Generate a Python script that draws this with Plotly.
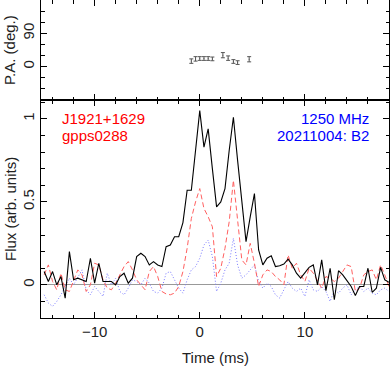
import numpy as np
import plotly.graph_objs as go
from plotly.subplots import make_subplots

# time bins (ms)
tempo = np.round(np.arange(-14.8, 18.01, 0.4), 1)

fluxo_total = [0.08, 0.02, 0.08, 0.00, 0.05, -0.08, 0.20, 0.03, 0.04, 0.03,
               0.02, 0.16, 0.01, 0.13, 0.02, 0.02, 0.02, 0.00, 0.05, 0.07,
               0.01, 0.04, 0.17, 0.19, 0.17, 0.12, 0.14, 0.12, 0.11, 0.23,
               0.24, 0.29, 0.29, 0.375, 0.57, 0.57, 0.81, 1.05, 0.83, 0.94,
               0.70, 0.47, 0.50, 0.58, 0.81, 1.01, 0.75, 0.50, 0.26, 0.41,
               0.55, 0.21, 0.12, 0.16, 0.175, 0.11, 0.115, 0.125, 0.155, 0.12,
               0.07, 0.04, 0.07, 0.105, 0.12, 0.00, 0.15, -0.035, 0.10, -0.09,
               0.085, 0.06, 0.025, -0.01, -0.065, -0.01, -0.01, 0.10, -0.045, -0.02,
               0.105, 0.03, 0.015]

fluxo_linear = [0.06, 0.12, 0.02, -0.03, 0.07, -0.03, -0.04, 0.03, 0.09, 0.06,
                -0.04, 0.00, 0.13, 0.12, 0.03, -0.02, -0.03, 0.01, 0.06, 0.11,
                0.14, 0.09, 0.03, 0.00, -0.03, 0.08, 0.11, 0.05, -0.04, -0.055,
                -0.06, -0.05, -0.01, 0.08, 0.22, 0.40, 0.50, 0.58, 0.46, 0.41,
                0.35, 0.05, 0.10, 0.22, 0.38, 0.63, 0.40, 0.15, 0.12, 0.25,
                0.13, -0.01, 0.06, 0.09, 0.08, 0.05, 0.03, 0.00, 0.18, 0.10,
                0.13, 0.06, 0.02, 0.10, 0.07, 0.02, -0.02, 0.05, 0.04, 0.02,
                0.04, 0.08, 0.12, 0.11, -0.04, -0.02, 0.06, 0.08, 0.09, 0.03,
                0.12, 0.06, -0.01]

fluxo_circular = [-0.06, -0.11, -0.13, -0.10, -0.06, -0.01, 0.04, 0.00, 0.05, 0.09,
                  -0.03, -0.06, -0.01, -0.04, -0.07, 0.07, 0.00, 0.04, -0.04, -0.06,
                  -0.02, 0.03, 0.02, 0.00, 0.04, 0.01, -0.04, -0.05, -0.02, 0.07,
                  0.08, 0.03, -0.02, -0.05, 0.03, 0.09, 0.11, 0.16, 0.24, 0.27,
                  0.17, -0.04, 0.01, 0.09, 0.13, 0.28, 0.12, 0.04, 0.06, 0.09,
                  0.12, 0.02, -0.02, 0.01, -0.01, -0.06, -0.08, -0.03, 0.02, -0.02,
                  -0.04, -0.02, -0.07, 0.03, -0.03, -0.04, -0.01, -0.04, -0.10, -0.03,
                  -0.05, -0.02, 0.00, -0.06, -0.03, -0.01, -0.04, -0.02, -0.05, -0.06,
                  -0.03, -0.02, -0.04]

# position angle points
pa_tempo = [-0.8, -0.4, 0.0, 0.4, 0.8, 1.2, 2.2, 2.7, 3.2, 3.6, 4.7]
pa_valor = [15, 21, 22, 22, 22, 21, 31, 23, 14, 11, 20]
pa_erro = [6, 6, 5, 5, 5, 5, 7, 6, 5, 5, 7]

fonte = "Liberation Sans, Arial, sans-serif"

fig = make_subplots(rows=2, cols=1, shared_xaxes=True, vertical_spacing=0,
                    row_heights=[100, 218])

fig.add_trace(go.Scatter(x=pa_tempo, y=pa_valor, mode='markers',
                         marker={'size': 1, 'color': '#555555'},
                         error_y={'type': 'data', 'array': pa_erro, 'width': 2,
                                  'thickness': 1, 'color': '#555555'}),
              row=1, col=1)

fig.add_trace(go.Scatter(x=tempo, y=fluxo_circular, mode='lines',
                         line={'color': '#7a7aff', 'width': 1, 'dash': '1px,2px'}),
              row=2, col=1)
fig.add_trace(go.Scatter(x=tempo, y=fluxo_linear, mode='lines',
                         line={'color': '#ff6060', 'width': 1, 'dash': '5px,3px'}),
              row=2, col=1)
fig.add_trace(go.Scatter(x=tempo, y=fluxo_total, mode='lines',
                         line={'color': 'black', 'width': 1.1}),
              row=2, col=1)

eixo = dict(showline=True, linecolor='black', linewidth=1, mirror='allticks',
            ticks='inside', ticklen=6, tickcolor='black', showgrid=False,
            zeroline=False, automargin=False,
            tickfont={'size': 15, 'color': '#222', 'family': fonte})

fig.update_xaxes(eixo, range=[-15.1, 18.0], tickvals=[-10, 0, 10],
                 ticktext=['\u221210', '0', '10'],
                 minor={'dtick': 2, 'ticklen': 3.5, 'ticks': 'inside', 'tickcolor': 'black'})
fig.update_xaxes(showticklabels=False, row=1, col=1)

fig.update_yaxes(eixo, range=[-90, 180], tickvals=[0, 90], tickangle=-90,
                 minor={'dtick': 30, 'ticklen': 3.5, 'ticks': 'inside', 'tickcolor': 'black'},
                 row=1, col=1)
fig.update_yaxes(eixo, range=[-0.2, 1.114], tickvals=[0, 0.5, 1], tickangle=-90,
                 zeroline=True, zerolinecolor='#999999', zerolinewidth=1,
                 minor={'dtick': 0.1, 'ticklen': 3.5, 'ticks': 'inside', 'tickcolor': 'black'},
                 row=2, col=1)

anotacoes = [
    dict(text='J1921+1629', x=-13.3, y=1.005, xref='x2', yref='y2',
         xanchor='left', yanchor='middle', font={'color': 'red'}),
    dict(text='gpps0288', x=-13.3, y=0.9, xref='x2', yref='y2',
         xanchor='left', yanchor='middle', font={'color': 'red'}),
    dict(text='1250 MHz', x=16.3, y=1.005, xref='x2', yref='y2',
         xanchor='right', yanchor='middle', font={'color': 'blue'}),
    dict(text='20211004: B2', x=16.3, y=0.9, xref='x2', yref='y2',
         xanchor='right', yanchor='middle', font={'color': 'blue'}),
    dict(text='Time (ms)', x=0.5, y=0, xref='paper', yref='paper',
         xanchor='center', yanchor='middle', yshift=-39, font={'color': '#222'}),
    dict(text='Flux (arb. units)', x=0, y=0.3427, xref='paper', yref='paper',
         xanchor='center', yanchor='middle', xshift=-31, textangle=-90,
         font={'color': '#222'}),
    dict(text='P.A. (deg.)', x=0, y=0.8428, xref='paper', yref='paper',
         xanchor='center', yanchor='middle', xshift=-31, textangle=-90,
         font={'color': '#222'}),
]
for a in anotacoes:
    a['showarrow'] = False
    a['font']['size'] = 15
    a['font']['family'] = fonte
    fig.add_annotation(**a)

fig.update_layout(width=390, height=367, showlegend=False,
                  margin=dict(l=41, r=1, t=0, b=49),
                  paper_bgcolor='white', plot_bgcolor='white')

# the page body has a default 8px margin; drop it so the figure fills the window
fig.write_html("out.html", config={'displayModeBar': False},
               post_script="document.body.style.margin='0';document.body.style.overflow='hidden';")
